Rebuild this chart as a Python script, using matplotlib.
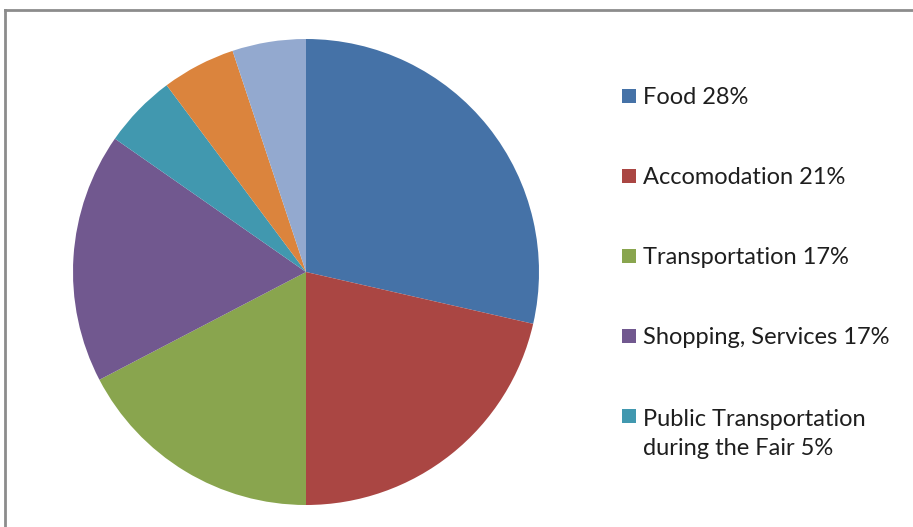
import matplotlib.pyplot as plt
from matplotlib.patches import Rectangle

# Anteile der Ausgaben (Prozent), im Uhrzeigersinn ab 12 Uhr
anteile = [28, 21, 17, 17, 5, 5, 5]
farben = ["#4572A7", "#AA4643", "#89A54E", "#71588F",
          "#4198AF", "#DB843D", "#93A9CF"]
legende = ["Food 28%", "Accomodation 21%", "Transportation 17%",
           "Shopping, Services 17%", "Public Transportation\nduring the Fair 5%"]

W, H = 913, 527
fig = plt.figure(figsize=(W / 100, H / 100), dpi=100)

# Kreis: Mittelpunkt (306, 272) px, Radius 233 px
cx, cy, r = 306, H - 272, 233
ax = fig.add_axes([(cx - r) / W, (cy - r) / H, 2 * r / W, 2 * r / H])
ax.pie(anteile, colors=farben, startangle=90, counterclock=False,
       wedgeprops=dict(linewidth=0))
ax.set_xlim(-1, 1)
ax.set_ylim(-1, 1)
ax.set_aspect("equal")
ax.axis("off")

# Legende von Hand
zeilenabstand = 31  # px
for i, text in enumerate(legende):
    y = H - (96 + 80 * i)
    fig.patches.append(Rectangle(((622) / W, (y - 7) / H), 14 / W, 14 / H,
                                 facecolor=farben[i], edgecolor="none",
                                 transform=fig.transFigure, figure=fig))
    # baseline bezieht sich bei mehrzeiligem Text auf die letzte Zeile
    extra = zeilenabstand * text.count("\n")
    fig.text(643 / W, (y - 8 - extra) / H, text, fontsize=17, family="Lato",
             color="#1e1e1e", va="baseline", ha="left", linespacing=1.5)

# grauer Rahmen oben und links
fig.add_artist(plt.Line2D([5 / W, 5 / W], [0, (H - 10) / H], color="#8c8c8c",
                          linewidth=2, transform=fig.transFigure))
fig.add_artist(plt.Line2D([5 / W, 1], [(H - 10) / H, (H - 10) / H],
                          color="#8c8c8c", linewidth=2, transform=fig.transFigure))

fig.savefig("out.png", dpi=100)
